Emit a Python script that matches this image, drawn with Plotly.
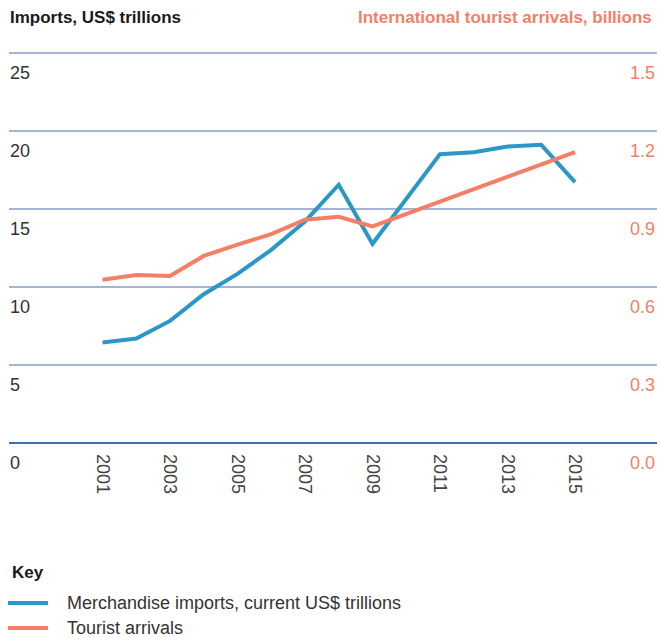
import plotly.graph_objects as go

years = list(range(2001, 2016))
imports = [6.43, 6.69, 7.82, 9.53, 10.83, 12.37, 14.19, 16.54, 12.76, 15.6, 18.5, 18.63, 18.99, 19.1, 16.71]
arrivals = [0.627, 0.646, 0.642, 0.719, 0.762, 0.803, 0.858, 0.869, 0.832, 0.880, 0.928, 0.975, 1.023, 1.070, 1.118]

left_ticks = [0, 5, 10, 15, 20, 25]
left_labels = ["0", "5", "10", "15", "20", "25"]
right_ticks = [0, 0.3, 0.6, 0.9, 1.2, 1.5]
right_labels = ["0.0", "0.3", "0.6", "0.9", "1.2", "1.5"]
x_ticks = [2001, 2003, 2005, 2007, 2009, 2011, 2013, 2015]

BLUE = "#2b97c6"
ORANGE = "#f47f66"
GRID = "#a5b4d4"
FONT = "Liberation Sans, Arial, sans-serif"
FS = 18

fig = go.Figure()
fig.add_trace(go.Scatter(x=years, y=imports, mode="lines", name="Merchandise imports, current US$ trillions",
                         line=dict(color=BLUE, width=4), yaxis="y"))
fig.add_trace(go.Scatter(x=years, y=arrivals, mode="lines", name="Tourist arrivals",
                         line=dict(color=ORANGE, width=4), yaxis="y2"))

TOP = 48
fig.update_layout(
    width=660, height=642,
    margin=dict(l=9, r=3, t=TOP, b=199, autoexpand=False),
    paper_bgcolor="white", plot_bgcolor="white",
    font=dict(family=FONT, color="#333333"),
    showlegend=False,
    xaxis=dict(range=[1998.23, 2017.43], tickvals=x_ticks, ticktext=[str(v) for v in x_ticks],
               tickangle=90, showgrid=False, zeroline=False, showline=False, ticks="",
               tickfont=dict(size=FS, color="#444444"), ticklabelstandoff=10, automargin=False),
    yaxis=dict(range=[0, 25.3], tickvals=left_ticks, showticklabels=False,
               showgrid=True, gridcolor=GRID, gridwidth=2, zeroline=True, zerolinecolor="#3d74ae",
               zerolinewidth=2, ticks="", automargin=False),
    yaxis2=dict(range=[0, 25.3 * 0.06], tickvals=right_ticks, overlaying="y", side="right",
                showgrid=False, zeroline=False, ticks="", showticklabels=False, automargin=False),
)

for v, t in zip(left_ticks, left_labels):
    fig.add_annotation(text=t, xref="paper", yref="y", x=0, y=v, xanchor="left", yanchor="middle",
                       yshift=-20, xshift=-1, showarrow=False, font=dict(size=FS, color="#333333", family=FONT))
for v, t in zip(right_ticks, right_labels):
    fig.add_annotation(text=t, xref="paper", yref="y2", x=1, y=v, xanchor="right", yanchor="middle",
                       yshift=-20, xshift=0, showarrow=False, font=dict(size=FS, color=ORANGE, family=FONT))

fig.add_annotation(text="<b>Imports, US$ trillions</b>", xref="paper", yref="paper", x=0, y=1,
                   xanchor="left", yanchor="middle", yshift=TOP - 17, showarrow=False, xshift=-1,
                   font=dict(size=17, color="#1a1a1a", family=FONT))
fig.add_annotation(text="<b>International tourist arrivals, billions</b>", xref="paper", yref="paper", x=1, y=1,
                   xanchor="right", yanchor="middle", yshift=TOP - 17, showarrow=False, xshift=-3,
                   font=dict(size=17, color=ORANGE, family=FONT))

# Key
ZERO = 443
fig.add_annotation(text="<b>Key</b>", xref="paper", yref="paper", x=0, y=0,
                   xanchor="left", yanchor="middle", yshift=-(572 - ZERO), xshift=1, showarrow=False,
                   font=dict(size=17, color="#1a1a1a", family=FONT))
for tr, yy in [(fig.data[0], 603), (fig.data[1], 628)]:
    fig.add_shape(type="line", xref="paper", yref="paper",
                  xsizemode="pixel", ysizemode="pixel", xanchor=0, yanchor=0,
                  x0=-1, x1=39, y0=-(yy - ZERO), y1=-(yy - ZERO),
                  line=dict(color=tr.line.color, width=4))
    fig.add_annotation(text=tr.name, xref="paper", yref="paper", x=0, y=0,
                       xanchor="left", yanchor="middle", yshift=-(yy - ZERO), xshift=56, showarrow=False,
                       font=dict(size=FS, color="#333333", family=FONT))

fig.write_html("out.html", config={"displayModeBar": False},
               post_script="document.body.style.margin='0';document.body.style.overflow='hidden';")
